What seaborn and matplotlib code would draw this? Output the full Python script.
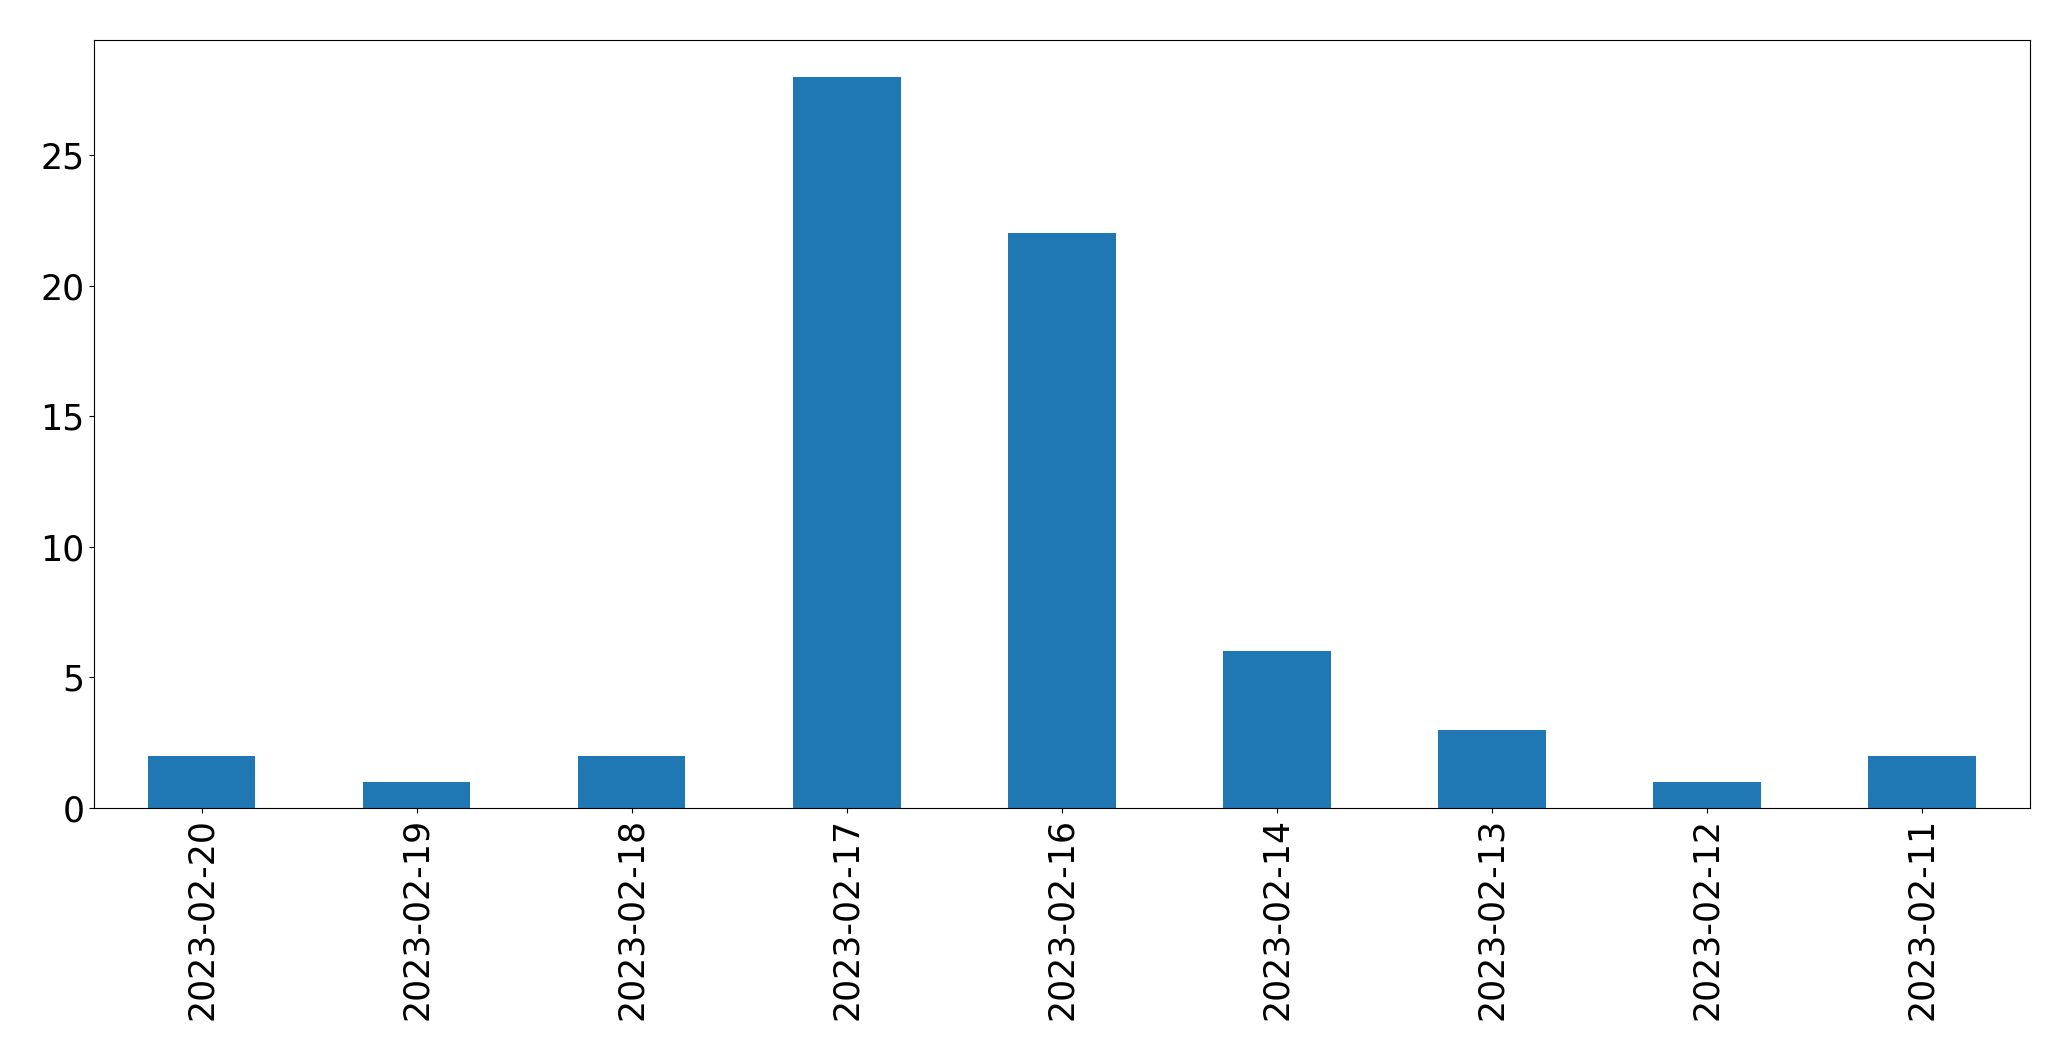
import pandas as pd
import seaborn as sns
import matplotlib.pyplot as plt

# daily counts, newest first
dates = ['2023-02-20', '2023-02-19', '2023-02-18', '2023-02-17', '2023-02-16',
         '2023-02-14', '2023-02-13', '2023-02-12', '2023-02-11']
counts = [2, 1, 2, 28, 22, 6, 3, 1, 2]

df = pd.DataFrame({'date': dates, 'count': counts})

fig, ax = plt.subplots(figsize=(20.71, 10.61), dpi=100)
sns.barplot(data=df, x='date', y='count', color='#1f77b4', saturation=1,
            width=0.5, linewidth=0, ax=ax)

ax.set_xlabel('')
ax.set_ylabel('')
ax.tick_params(axis='both', labelsize=25)
ax.tick_params(axis='x', labelrotation=90)
ax.set_xlim(-0.5, len(dates) - 0.5)
ax.set_ylim(0, max(counts) * 1.05)
for s in ax.spines.values():
    s.set_color('black')

plt.subplots_adjust(left=0.0454, right=0.980, top=0.9623, bottom=0.2385)
plt.savefig('out.png', dpi=100)
